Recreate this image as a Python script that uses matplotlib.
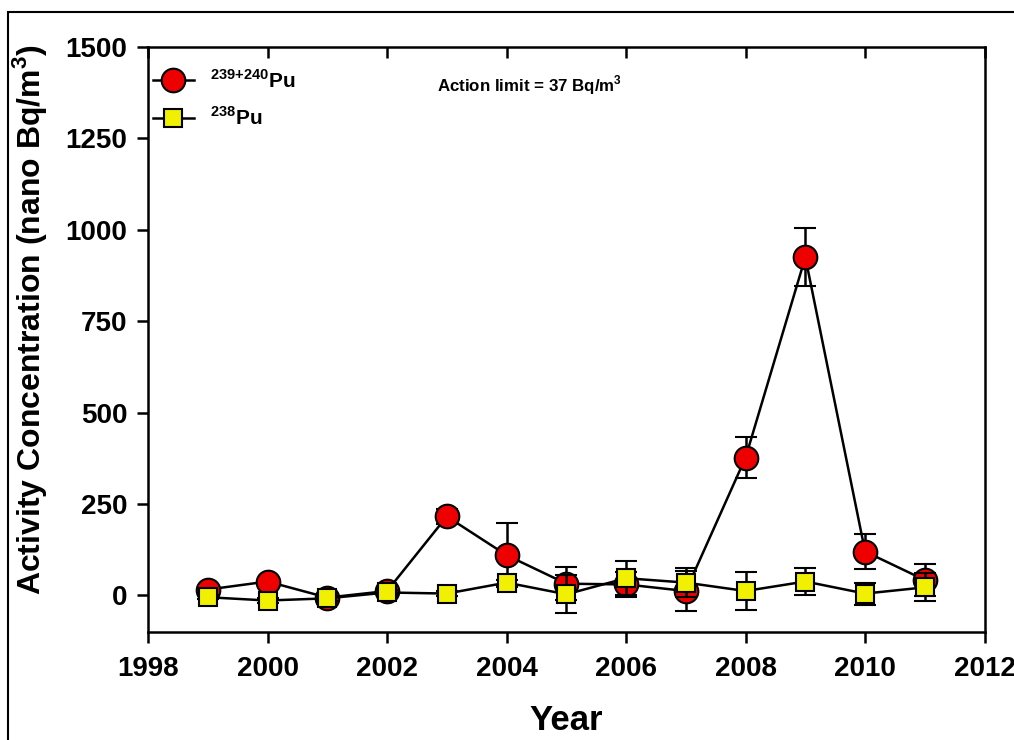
import matplotlib.pyplot as plt
from matplotlib.lines import Line2D
from matplotlib.patches import Rectangle

plt.rcParams['font.family'] = ['Liberation Sans', 'DejaVu Sans']
plt.rcParams['mathtext.fontset'] = 'custom'
plt.rcParams['mathtext.rm'] = 'Liberation Sans:bold'
plt.rcParams['mathtext.bf'] = 'Liberation Sans:bold'

# data
years = [1999, 2000, 2001, 2002, 2003, 2004, 2005, 2006, 2007, 2008, 2009, 2010, 2011]
pu239 = [16, 38, -6, 12, 216, 110, 32, 30, 12, 377, 925, 120, 42]
pu239_err = [8, 10, 8, 8, 20, 87, 45, 35, 55, 56, 80, 49, 43]
pu238 = [-5, -14, -8, 8, 5, 35, 3, 47, 35, 12, 38, 5, 22]
pu238_err = [6, 6, 6, 6, 6, 8, 52, 46, 40, 53, 38, 30, 38]

fig = plt.figure(figsize=(10.14, 7.4), dpi=100)
ax = fig.add_axes([0.146, 0.146, 0.825, 0.7905])

ax.errorbar(years, pu238, yerr=pu238_err, fmt='-s', color='black', mfc='#f0f000', mec='black',
            mew=1.5, ms=13, lw=1.8, capsize=8, capthick=1.8, elinewidth=1.8, zorder=3)
ax.errorbar(years, pu239, yerr=pu239_err, fmt='-o', color='black', mfc='#ee0000', mec='black',
            mew=1.5, ms=17, lw=1.8, capsize=8, capthick=1.8, elinewidth=1.8, zorder=2)

ax.set_xlim(1998, 2012)
ax.set_ylim(-100, 1500)
ax.set_xticks(range(1998, 2013, 2))
ax.set_yticks([0, 250, 500, 750, 1000, 1250, 1500])
for s in ax.spines.values():
    s.set_linewidth(1.8)
ax.tick_params(axis='both', which='major', labelsize=20, width=1.8, length=8, direction='out')
ax.tick_params(axis='x', top=True, pad=9)
ax.tick_params(axis='y', pad=7)
for lab in ax.get_xticklabels() + ax.get_yticklabels():
    lab.set_fontweight('bold')
# top ticks point inward
for t in ax.xaxis.get_major_ticks():
    t.tick2line.set_marker(3)

ax.set_xlabel('Year', fontsize=25, fontweight='bold', labelpad=16)
ax.set_ylabel(r'Activity Concentration (nano Bq/m$^{3}$)', fontsize=23, fontweight='bold')
ax.yaxis.set_label_coords(-0.118, 0.535)

handles = [
    Line2D([], [], color='black', lw=1.8, marker='o', ms=17, mfc='#ee0000', mec='black', mew=1.5),
    Line2D([], [], color='black', lw=1.8, marker='s', ms=13, mfc='#f0f000', mec='black', mew=1.5),
]
ax.legend(handles, [r'$^{239{+}240}$Pu', r'$^{238}$Pu'], loc='upper left', frameon=False,
          prop={'weight': 'bold', 'size': 15}, handlelength=2.0, borderaxespad=0.1,
          handletextpad=0.75, labelspacing=0.7, bbox_to_anchor=(-0.007, 0.98))

ax.text(0.345, 0.935, r'Action limit = 37 Bq/m$^{3}$', transform=ax.transAxes, fontsize=12.2,
        fontweight='bold', va='center')

fig.patches.append(Rectangle((8 / 1014, -0.1), 1.2, 1 - 12 / 740 + 0.1, transform=fig.transFigure,
                             fill=False, edgecolor='black', lw=1.5))

fig.savefig('out.png', dpi=100)
